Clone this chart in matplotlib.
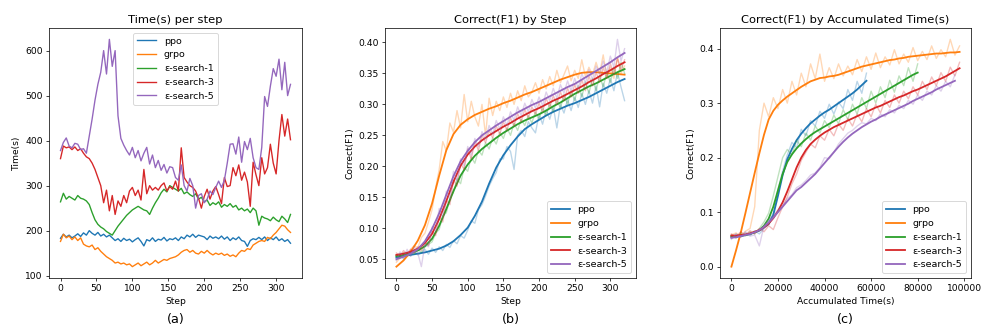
import numpy as np
import matplotlib
matplotlib.use("Agg")
import matplotlib.pyplot as plt

names = ["ppo", "grpo", "ε-search-1", "ε-search-3", "ε-search-5"]
colors = ["tab:blue", "tab:orange", "tab:green", "tab:red", "tab:purple"]

# ---- (a) time per step, sampled every 4 steps ----
steps_a = np.arange(0, 321, 4)
time_ppo = [183, 192, 186, 190, 184, 188, 193, 187, 195, 190,
            200, 194, 190, 196, 188, 192, 186, 190, 184, 178,
            182, 176, 183, 178, 181, 175, 180, 184, 176, 166,
            180, 177, 184, 176, 181, 179, 185, 177, 182, 180,
            184, 178, 186, 182, 190, 186, 192, 185, 190, 188,
            186, 180, 188, 183, 186, 182, 188, 181, 186, 178,
            184, 180, 186, 178, 176, 165, 178, 182, 180, 185,
            180, 186, 178, 184, 180, 186, 178, 182, 176, 180,
            172]
time_grpo = [176, 192, 184, 188, 180, 186, 178, 184, 170, 166,
             164, 168, 158, 162, 154, 148, 142, 138, 134, 128,
             130, 126, 128, 124, 126, 120, 124, 128, 122, 126,
             130, 124, 128, 134, 128, 132, 136, 134, 138, 140,
             142, 146, 152, 156, 158, 152, 156, 150, 148, 154,
             150, 156, 150, 146, 150, 147, 150, 145, 148, 143,
             146, 142, 150, 156, 154, 160, 158, 168, 172, 176,
             178, 176, 185, 182, 190, 196, 204, 212, 210, 202,
             196]
time_e1 = [264, 283, 270, 276, 272, 268, 278, 272, 270, 266,
           258, 240, 224, 214, 208, 204, 198, 194, 190, 200,
           210, 218, 226, 234, 240, 246, 250, 254, 250, 246,
           244, 236, 250, 262, 272, 284, 292, 286, 300, 296,
           292, 288, 294, 282, 286, 280, 276, 282, 270, 274,
           264, 268, 256, 262, 258, 264, 252, 258, 254, 260,
           252, 256, 246, 250, 244, 248, 240, 250, 244, 212,
           232, 228, 226, 222, 230, 224, 220, 232, 226, 218,
           236]
time_e3 = [360, 388, 384, 386, 380, 386, 378, 382, 372, 364,
           360, 350, 336, 318, 300, 262, 290, 244, 278, 236,
           266, 254, 278, 262, 288, 296, 278, 290, 268, 336,
           282, 300, 290, 296, 290, 300, 306, 288, 298, 292,
           310, 288, 384, 318, 308, 300, 296, 288, 272, 250,
           276, 292, 270, 288, 298, 280, 260, 318, 298, 300,
           340, 322, 346, 312, 330, 308, 254, 352, 324, 300,
           362, 326, 340, 392, 350, 326, 400, 458, 410, 448,
           402]
time_e5 = [378, 396, 406, 388, 384, 394, 392, 380, 382, 372,
           410, 448, 490, 525, 552, 600, 548, 625, 565, 600,
           455, 405, 390, 378, 368, 385, 362, 378, 355, 372,
           385, 348, 368, 340, 356, 334, 347, 328, 342, 340,
           318, 312, 346, 300, 288, 316, 300, 250, 278, 282,
           262, 270, 288, 280, 296, 310, 296, 312, 350, 392,
           393, 370, 408, 352, 398, 380, 405, 362, 340, 336,
           385, 498, 476, 521, 560, 543, 581, 513, 574, 500,
           525]

# ---- (b) F1 by step: raw every 5 steps, smoothed every 10 steps ----
steps_raw = np.arange(0, 321, 5)
steps_smooth = np.arange(0, 321, 10)
f1_ppo = [0.052, 0.058, 0.050, 0.061, 0.055, 0.063, 0.057, 0.060, 0.066, 0.058,
          0.068, 0.061, 0.070, 0.064, 0.074, 0.069, 0.080, 0.075, 0.088, 0.084,
          0.097, 0.112, 0.108, 0.130, 0.138, 0.152, 0.168, 0.180, 0.190, 0.212,
          0.212, 0.232, 0.224, 0.195, 0.250, 0.258, 0.248, 0.272, 0.262, 0.254,
          0.284, 0.268, 0.292, 0.276, 0.296, 0.262, 0.300, 0.286, 0.308, 0.290,
          0.312, 0.295, 0.318, 0.300, 0.322, 0.302, 0.330, 0.296, 0.334, 0.318,
          0.342, 0.322, 0.352, 0.328, 0.306]
f1_grpo = [0.045, 0.052, 0.060, 0.055, 0.066, 0.072, 0.068, 0.085, 0.092, 0.110,
           0.130, 0.165, 0.195, 0.240, 0.225, 0.270, 0.255, 0.290, 0.262, 0.316,
           0.272, 0.305, 0.280, 0.265, 0.300, 0.250, 0.310, 0.282, 0.305, 0.290,
           0.312, 0.295, 0.318, 0.300, 0.322, 0.306, 0.330, 0.312, 0.320, 0.335,
           0.318, 0.340, 0.325, 0.345, 0.330, 0.355, 0.335, 0.348, 0.362, 0.338,
           0.355, 0.342, 0.372, 0.345, 0.360, 0.348, 0.368, 0.350, 0.380, 0.345,
           0.360, 0.342, 0.375, 0.350, 0.362]
f1_e1 = [0.056, 0.052, 0.060, 0.055, 0.063, 0.058, 0.066, 0.061, 0.070, 0.074,
         0.078, 0.092, 0.098, 0.120, 0.125, 0.148, 0.158, 0.180, 0.172, 0.198,
         0.192, 0.215, 0.205, 0.226, 0.218, 0.238, 0.228, 0.246, 0.236, 0.255,
         0.245, 0.262, 0.250, 0.270, 0.258, 0.276, 0.266, 0.282, 0.270, 0.288,
         0.276, 0.295, 0.282, 0.302, 0.288, 0.308, 0.294, 0.316, 0.300, 0.322,
         0.306, 0.330, 0.312, 0.336, 0.318, 0.342, 0.322, 0.346, 0.328, 0.352,
         0.335, 0.360, 0.342, 0.368, 0.350]
f1_e3 = [0.060, 0.055, 0.064, 0.058, 0.066, 0.060, 0.070, 0.064, 0.078, 0.072,
         0.095, 0.088, 0.118, 0.110, 0.145, 0.138, 0.178, 0.168, 0.205, 0.195,
         0.228, 0.212, 0.240, 0.226, 0.250, 0.238, 0.258, 0.246, 0.265, 0.252,
         0.272, 0.258, 0.278, 0.265, 0.285, 0.272, 0.292, 0.278, 0.296, 0.284,
         0.302, 0.288, 0.310, 0.295, 0.314, 0.300, 0.320, 0.306, 0.326, 0.312,
         0.332, 0.318, 0.340, 0.322, 0.346, 0.330, 0.352, 0.336, 0.360, 0.342,
         0.366, 0.348, 0.375, 0.356, 0.372]
f1_e5 = [0.048, 0.062, 0.052, 0.066, 0.055, 0.070, 0.060, 0.038, 0.074, 0.070,
         0.102, 0.096, 0.132, 0.118, 0.160, 0.148, 0.192, 0.176, 0.212, 0.200,
         0.232, 0.218, 0.245, 0.232, 0.256, 0.244, 0.266, 0.252, 0.274, 0.260,
         0.280, 0.266, 0.288, 0.274, 0.296, 0.282, 0.302, 0.288, 0.308, 0.294,
         0.312, 0.298, 0.320, 0.306, 0.326, 0.310, 0.332, 0.318, 0.338, 0.322,
         0.342, 0.326, 0.350, 0.334, 0.356, 0.340, 0.362, 0.348, 0.370, 0.352,
         0.378, 0.360, 0.405, 0.370, 0.390]
sm_ppo = [0.053, 0.055, 0.057, 0.059, 0.061, 0.064, 0.067, 0.072, 0.079, 0.089,
          0.101, 0.120, 0.143, 0.172, 0.198, 0.218, 0.234, 0.248, 0.260, 0.268,
          0.275, 0.282, 0.288, 0.293, 0.298, 0.302, 0.307, 0.312, 0.318, 0.324,
          0.330, 0.336, 0.341]
sm_grpo = [0.038, 0.048, 0.062, 0.080, 0.105, 0.140, 0.185, 0.226, 0.252, 0.267,
           0.276, 0.283, 0.288, 0.293, 0.297, 0.302, 0.306, 0.311, 0.316, 0.320,
           0.325, 0.330, 0.335, 0.340, 0.344, 0.348, 0.351, 0.352, 0.352, 0.351,
           0.350, 0.349, 0.348]
sm_e1 = [0.055, 0.057, 0.060, 0.064, 0.071, 0.083, 0.104, 0.131, 0.160, 0.185,
         0.203, 0.217, 0.228, 0.237, 0.246, 0.254, 0.261, 0.268, 0.274, 0.279,
         0.284, 0.290, 0.297, 0.303, 0.310, 0.317, 0.323, 0.329, 0.334, 0.340,
         0.346, 0.352, 0.357]
sm_e3 = [0.057, 0.059, 0.062, 0.067, 0.076, 0.091, 0.115, 0.144, 0.175, 0.201,
         0.219, 0.232, 0.242, 0.250, 0.257, 0.264, 0.270, 0.277, 0.283, 0.289,
         0.294, 0.300, 0.306, 0.311, 0.317, 0.323, 0.329, 0.336, 0.342, 0.349,
         0.355, 0.362, 0.368]
sm_e5 = [0.050, 0.054, 0.059, 0.066, 0.079, 0.099, 0.124, 0.154, 0.184, 0.208,
         0.225, 0.239, 0.250, 0.258, 0.266, 0.273, 0.280, 0.287, 0.293, 0.299,
         0.304, 0.310, 0.316, 0.322, 0.328, 0.333, 0.340, 0.347, 0.354, 0.361,
         0.368, 0.376, 0.383]

# ---- (c) F1 by accumulated time, sampled every 2000 s ----
acc_grid = np.arange(0, 98001, 2000)
cr_ppo = [0.052, 0.060, 0.054, 0.062, 0.057, 0.066, 0.060, 0.070, 0.082, 0.098,
          0.142, 0.175, 0.205, 0.228, 0.218, 0.252, 0.240, 0.268, 0.258, 0.285,
          0.272, 0.298, 0.280, 0.302, 0.290, 0.325, 0.305, 0.340, 0.318, 0.355]
cr_grpo = [0.058, 0.062, 0.055, 0.065, 0.070, 0.110, 0.250, 0.300, 0.275, 0.310,
           0.290, 0.325, 0.300, 0.340, 0.315, 0.355, 0.330, 0.372, 0.345, 0.390,
           0.340, 0.365, 0.345, 0.372, 0.350, 0.368, 0.352, 0.380, 0.358, 0.385,
           0.362, 0.392, 0.365, 0.385, 0.370, 0.398, 0.372, 0.390, 0.375, 0.402,
           0.378, 0.395, 0.380, 0.405, 0.382, 0.398, 0.385, 0.417, 0.388, 0.405]
cr_e1 = [0.058, 0.052, 0.062, 0.056, 0.064, 0.060, 0.070, 0.082, 0.098, 0.130,
         0.165, 0.200, 0.215, 0.205, 0.232, 0.220, 0.245, 0.232, 0.258, 0.245,
         0.268, 0.255, 0.278, 0.262, 0.288, 0.270, 0.298, 0.280, 0.310, 0.290,
         0.322, 0.300, 0.330, 0.310, 0.342, 0.320, 0.350, 0.332, 0.365, 0.340,
         0.372]
cr_e3 = [0.060, 0.055, 0.064, 0.058, 0.066, 0.060, 0.070, 0.064, 0.075, 0.068,
         0.090, 0.110, 0.128, 0.152, 0.170, 0.195, 0.210, 0.225, 0.218, 0.240,
         0.232, 0.252, 0.240, 0.262, 0.250, 0.272, 0.258, 0.280, 0.266, 0.290,
         0.275, 0.298, 0.282, 0.305, 0.292, 0.315, 0.300, 0.322, 0.308, 0.330,
         0.315, 0.340, 0.325, 0.348, 0.332, 0.356, 0.340, 0.366, 0.350, 0.375]
cr_e5 = [0.050, 0.060, 0.054, 0.064, 0.056, 0.058, 0.038, 0.075, 0.085, 0.094,
         0.104, 0.112, 0.125, 0.132, 0.145, 0.150, 0.158, 0.168, 0.172, 0.182,
         0.200, 0.198, 0.210, 0.225, 0.235, 0.245, 0.250, 0.258, 0.264, 0.262,
         0.272, 0.268, 0.280, 0.275, 0.288, 0.282, 0.296, 0.290, 0.305, 0.298,
         0.315, 0.305, 0.322, 0.315, 0.332, 0.322, 0.340, 0.330, 0.352]
cs_ppo = [0.054, 0.055, 0.056, 0.058, 0.060, 0.063, 0.066, 0.072, 0.078, 0.095,
          0.130, 0.168, 0.197, 0.216, 0.232, 0.244, 0.254, 0.263, 0.270, 0.277,
          0.283, 0.288, 0.294, 0.300, 0.306, 0.312, 0.318, 0.325, 0.333, 0.341]
cs_grpo = [0.000, 0.030, 0.062, 0.098, 0.135, 0.172, 0.208, 0.242, 0.270, 0.286,
           0.297, 0.305, 0.312, 0.318, 0.324, 0.330, 0.335, 0.340, 0.343, 0.346,
           0.347, 0.349, 0.350, 0.352, 0.355, 0.358, 0.361, 0.364, 0.367, 0.369,
           0.371, 0.373, 0.375, 0.377, 0.379, 0.380, 0.382, 0.383, 0.385, 0.386,
           0.387, 0.388, 0.389, 0.390, 0.391, 0.391, 0.392, 0.393, 0.393, 0.394]
cs_e1 = [0.056, 0.056, 0.057, 0.058, 0.060, 0.063, 0.067, 0.075, 0.088, 0.110,
         0.140, 0.170, 0.192, 0.206, 0.217, 0.226, 0.234, 0.241, 0.247, 0.252,
         0.257, 0.262, 0.267, 0.272, 0.277, 0.282, 0.287, 0.292, 0.297, 0.302,
         0.307, 0.312, 0.317, 0.322, 0.327, 0.332, 0.337, 0.342, 0.347, 0.352,
         0.356]
cs_e3 = [0.057, 0.057, 0.058, 0.059, 0.061, 0.064, 0.067, 0.072, 0.079, 0.089,
         0.102, 0.118, 0.138, 0.160, 0.182, 0.200, 0.214, 0.225, 0.233, 0.240,
         0.246, 0.251, 0.256, 0.260, 0.264, 0.268, 0.272, 0.276, 0.280, 0.284,
         0.288, 0.292, 0.295, 0.299, 0.303, 0.307, 0.311, 0.314, 0.318, 0.322,
         0.325, 0.329, 0.333, 0.337, 0.341, 0.345, 0.349, 0.354, 0.359, 0.364]
cs_e5 = [0.053, 0.054, 0.056, 0.058, 0.060, 0.063, 0.067, 0.073, 0.081, 0.090,
         0.100, 0.110, 0.120, 0.130, 0.140, 0.146, 0.154, 0.162, 0.170, 0.180,
         0.190, 0.200, 0.210, 0.220, 0.229, 0.237, 0.244, 0.250, 0.256, 0.261,
         0.266, 0.270, 0.275, 0.279, 0.283, 0.287, 0.291, 0.295, 0.299, 0.304,
         0.308, 0.312, 0.316, 0.320, 0.325, 0.329, 0.333, 0.337, 0.341]

time_series = [time_ppo, time_grpo, time_e1, time_e3, time_e5]
f1_raw = [f1_ppo, f1_grpo, f1_e1, f1_e3, f1_e5]
f1_smooth = [sm_ppo, sm_grpo, sm_e1, sm_e3, sm_e5]
acc_raw = [cr_ppo, cr_grpo, cr_e1, cr_e3, cr_e5]
acc_smooth = [cs_ppo, cs_grpo, cs_e1, cs_e3, cs_e5]

dpi = 65.5
fig = plt.figure(figsize=(982 / dpi, 329 / dpi), dpi=dpi)
ax_a = fig.add_axes([49 / 982, 51 / 329, 253 / 982, 250 / 329])
ax_b = fig.add_axes([385 / 982, 51 / 329, 251 / 982, 250 / 329])
ax_c = fig.add_axes([720 / 982, 51 / 329, 251 / 982, 250 / 329])

title_fs = 12.7
legend_fs = 10.5

for name, col, t in zip(names, colors, time_series):
    ax_a.plot(steps_a, t, color=col, lw=1.5, label=name)
ax_a.set_title("Time(s) per step", fontsize=title_fs)
ax_a.set_xlabel("Step")
ax_a.set_ylabel("Time(s)")
ax_a.legend(loc="upper center", fontsize=legend_fs)

for name, col, raw, sm in zip(names, colors, f1_raw, f1_smooth):
    ax_b.plot(steps_raw, raw, color=col, lw=1.5, alpha=0.3)
    ax_b.plot(steps_smooth, sm, color=col, lw=2, label=name)
ax_b.set_title("Correct(F1) by Step", fontsize=title_fs)
ax_b.set_xlabel("Step")
ax_b.set_ylabel("Correct(F1)")
ax_b.legend(loc="lower right", fontsize=legend_fs)

for name, col, raw, sm in zip(names, colors, acc_raw, acc_smooth):
    ax_c.plot(acc_grid[:len(raw)], raw, color=col, lw=1.5, alpha=0.3)
    ax_c.plot(acc_grid[:len(sm)], sm, color=col, lw=2, label=name)
ax_c.set_title("Correct(F1) by Accumulated Time(s)", fontsize=title_fs)
ax_c.set_xlabel("Accumulated Time(s)")
ax_c.set_ylabel("Correct(F1)")
ax_c.legend(loc="lower right", fontsize=legend_fs)

for ax, tag in zip([ax_a, ax_b, ax_c], ["(a)", "(b)", "(c)"]):
    pos = ax.get_position()
    fig.text((pos.x0 + pos.x1) / 2, 10 / 329, tag, ha="center", va="center", fontsize=14)

fig.savefig("out.png", dpi=dpi)
